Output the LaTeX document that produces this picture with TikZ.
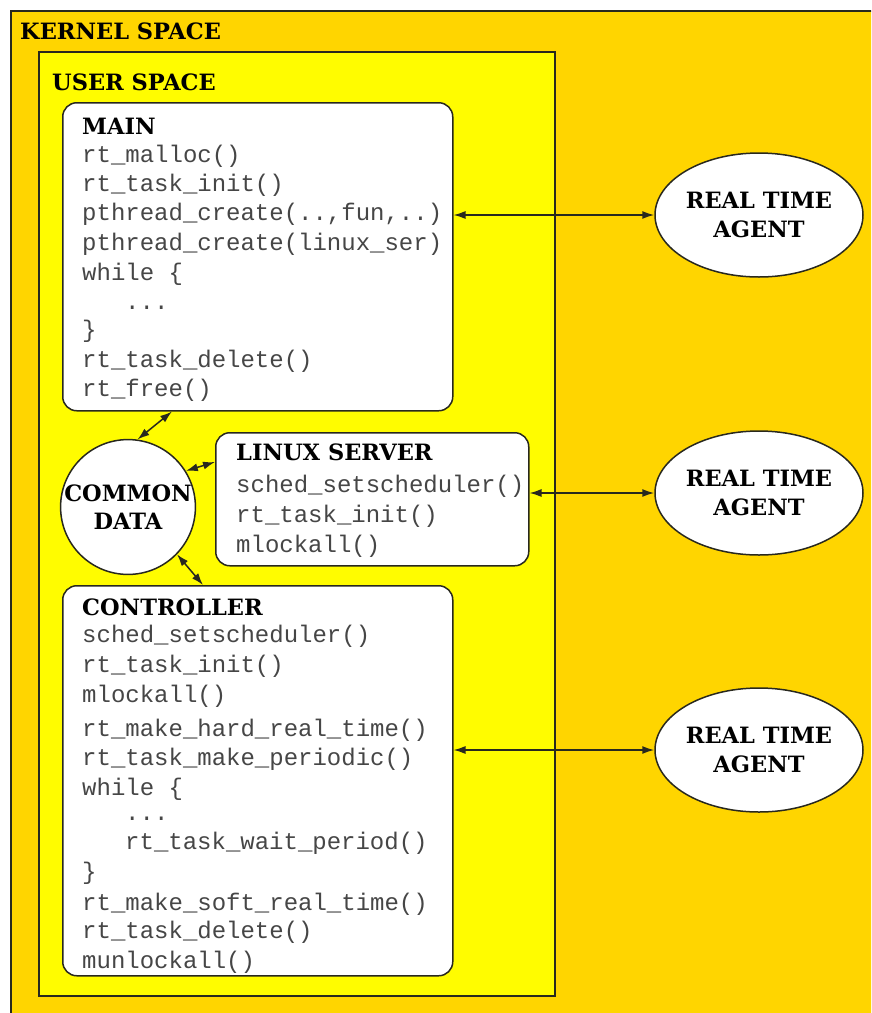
\documentclass[tikz,border=0pt]{standalone}
\usepackage{fontspec}
\setmonofont{Liberation Mono}
\newfontfamily\headfont{DejaVu Serif}
\usetikzlibrary{shapes.geometric,arrows.meta,calc}
\definecolor{kernelc}{RGB}{255,213,0}
\definecolor{userc}{RGB}{255,252,0}
\definecolor{codec}{RGB}{70,70,70}
\definecolor{linec}{RGB}{40,40,30}
\newcommand\codedots{...}
\tikzset{
  boxline/.style={draw=linec, line width=1.5pt, inner sep=0pt},
  spacebox/.style={boxline, rectangle, anchor=north west},
  procbox/.style={boxline, rectangle, rounded corners=14pt, fill=white, anchor=north west},
  titletext/.style={font=\headfont\bfseries\fontsize{22.5}{26}\selectfont, anchor=west, inner sep=0pt, text height=15pt, text depth=0pt},
  codetext/.style={font=\ttfamily\fontsize{24}{29}\selectfont, text=codec, anchor=west, inner sep=0pt, text height=16pt, text depth=5pt},
  agentnode/.style={boxline, ellipse, fill=white, minimum width=208pt, minimum height=124pt, align=center, font=\headfont\bfseries\fontsize{22.5}{29}\selectfont},
  datanode/.style={boxline, circle, fill=white, minimum size=134pt, align=center, font=\headfont\bfseries\fontsize{22.5}{30}\selectfont},
  biarrow/.style={{Latex[length=12pt,width=8pt]}-{Latex[length=12pt,width=8pt]}, line width=1.5pt, draw=linec}
}
\begin{document}
\begin{tikzpicture}[x=1pt,y=-1pt]
\useasboundingbox (0,0) rectangle (871,1013);
\clip (0,0) rectangle (871,1013);
% containers
\node[spacebox, fill=kernelc, minimum width=900pt, minimum height=1030pt] (kernel) at (10,10) {};
\node[titletext] (kerneltitle) at (20,32) {KERNEL SPACE};
\node[spacebox, fill=userc, minimum width=516pt, minimum height=944pt] (user) at (38,51) {};
\node[titletext] (usertitle) at (52,83) {USER SPACE};
% process boxes
\node[procbox, minimum width=390pt, minimum height=308pt] (main) at (62,102) {};
\node[procbox, minimum width=313pt, minimum height=133pt] (linux) at (215,432) {};
\node[procbox, minimum width=390pt, minimum height=390pt] (ctrl) at (62,585) {};
\node[datanode] (common) at (128,507) {COMMON\\[-2pt]DATA};
% agents
\node[agentnode] (a1) at (759,215) {REAL TIME\\AGENT};
\node[agentnode] (a2) at (759,493) {REAL TIME\\AGENT};
\node[agentnode] (a3) at (759,750) {REAL TIME\\AGENT};
% titles
\node[titletext] (maintitle) at (82,127) {MAIN};
\node[titletext] (linuxtitle) at (236,453) {LINUX SERVER};
\node[titletext] (ctrltitle) at (82,608) {CONTROLLER};
% code lines
\foreach \xx/\yy/\txt [count=\i] in {
  82/157/rt\_malloc(),
  82/186/rt\_task\_init(),
  82/215/{pthread\_create(..,fun,..)},
  82/245/pthread\_create(linux\_ser),
  82/275/while \{,
  125/304/\codedots,
  82/332/\},
  82/362/rt\_task\_delete(),
  82/391/rt\_free()}
  \node[codetext] (m\i) at (\xx,\yy) {\txt};
\foreach \xx/\yy/\txt [count=\i] in {
  236/487/sched\_setscheduler(),
  236/517/rt\_task\_init(),
  236/547/mlockall()}
  \node[codetext] (l\i) at (\xx,\yy) {\txt};
\foreach \xx/\yy/\txt [count=\i] in {
  82/637/sched\_setscheduler(),
  82/667/rt\_task\_init(),
  82/697/mlockall(),
  82/731/rt\_make\_hard\_real\_time(),
  82/760/rt\_task\_make\_periodic(),
  82/790/while \{,
  125/815/\codedots,
  125/844/rt\_task\_wait\_period(),
  82/874/\},
  82/905/rt\_make\_soft\_real\_time(),
  82/933/rt\_task\_delete(),
  82/963/munlockall()}
  \node[codetext] (c\i) at (\xx,\yy) {\txt};
% connectors
\draw[biarrow] (main.east |- a1.west) -- (a1.west);
\draw[biarrow] (linux.east |- a2.west) -- (a2.west);
\draw[biarrow] (ctrl.east |- a3.west) -- (a3.west);
\draw[biarrow] (common.82) -- ([xshift=110pt]main.south west);
\draw[biarrow] (common.32) -- ([yshift=-30pt]linux.north west);
\draw[biarrow] (common.-44) -- ([xshift=141pt]ctrl.north west);
\end{tikzpicture}
\end{document}
